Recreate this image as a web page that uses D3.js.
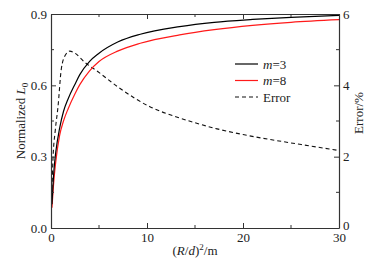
<!DOCTYPE html>
<html>
<head>
<meta charset="utf-8">
<script src="https://cdn.jsdelivr.net/npm/d3@7"></script>
<style>
  body { margin: 0; background: #fff; }
</style>
</head>
<body>
<div id="chart"></div>
<script>
// data
var xM3 = [0.1, 0.3, 0.5, 0.9, 1.3, 1.8, 2.5, 3, 4, 5, 7, 9.3, 13.4, 17, 21, 25, 30];
var yM3 = [0.10, 0.24, 0.32, 0.42, 0.49, 0.545, 0.605, 0.645, 0.7, 0.735, 0.783, 0.815, 0.847, 0.865, 0.877, 0.886, 0.894];

var xM8 = [0.1, 0.3, 0.5, 0.9, 1.3, 1.8, 2.5, 3, 4, 5, 7, 9.3, 13.4, 17, 21, 25, 30];
var yM8 = [0.085, 0.2, 0.28, 0.39, 0.45, 0.503, 0.565, 0.603, 0.66, 0.7, 0.745, 0.777, 0.812, 0.834, 0.852, 0.865, 0.876];

var xErr = [0.1, 0.2, 0.45, 0.73, 1.07, 1.5, 1.95, 2.5, 3.5, 4.9, 7, 10.3, 13, 15, 17.3, 20, 24.2, 27, 29.8];
var yErr = [1.1, 1.9, 2.75, 3.4, 4.45, 4.85, 4.96, 4.9, 4.65, 4.38, 3.95, 3.4, 3.12, 2.95, 2.78, 2.62, 2.42, 2.3, 2.18];

var xTicks = [0, 10, 20, 30];
var yLeftTicks = [0, 0.3, 0.6, 0.9];
var yRightTicks = [0, 2, 4, 6];

var width = 390, height = 259;
var margin = { top: 14, right: 51, bottom: 31, left: 51 };
var w = width - margin.left - margin.right;
var h = height - margin.top - margin.bottom;
var fontSize = 13;
var fontFamily = "'Liberation Serif', 'Times New Roman', Times, serif";
var axisColor = "#333";

var svg = d3.select("#chart").append("svg")
  .attr("width", width)
  .attr("height", height)
  .attr("font-family", fontFamily);

var g = svg.append("g")
  .attr("transform", "translate(" + margin.left + "," + margin.top + ")");

var x = d3.scaleLinear().domain([0, 30]).range([0, w]);
var yL = d3.scaleLinear().domain([0, 0.9]).range([h, 0]);
var yR = d3.scaleLinear().domain([0, 6]).range([h, 0]);

g.append("clipPath").attr("id", "clip")
  .append("rect").attr("width", w).attr("height", h);

function zip(xs, ys) {
  return xs.map(function (d, i) { return [d, ys[i]]; });
}

var lineL = d3.line()
  .x(function (d) { return x(d[0]); })
  .y(function (d) { return yL(d[1]); })
  .curve(d3.curveMonotoneX);

var lineR = d3.line()
  .x(function (d) { return x(d[0]); })
  .y(function (d) { return yR(d[1]); })
  .curve(d3.curveMonotoneX);

var plot = g.append("g").attr("clip-path", "url(#clip)");

plot.append("path").datum(zip(xErr, yErr))
  .attr("d", lineR).attr("fill", "none")
  .attr("stroke", "#111").attr("stroke-width", 1.1)
  .attr("stroke-dasharray", "4,3");

plot.append("path").datum(zip(xM8, yM8))
  .attr("d", lineL).attr("fill", "none")
  .attr("stroke", "#ff1a1a").attr("stroke-width", 1.2);

plot.append("path").datum(zip(xM3, yM3))
  .attr("d", lineL).attr("fill", "none")
  .attr("stroke", "#000").attr("stroke-width", 1.2);

// axes, ticks pointing inward
var minorX = [5, 15, 25];
var minorL = [0.15, 0.45, 0.75];
var minorR = [1, 3, 5];

var axBottom = g.append("g").attr("transform", "translate(0," + h + ")")
  .call(d3.axisBottom(x).tickValues(xTicks).tickSizeInner(-5).tickSizeOuter(0).tickPadding(5).tickFormat(d3.format("d")));
axBottom.append("g").selectAll("line").data(minorX).enter().append("line")
  .attr("x1", x).attr("x2", x).attr("y1", 0).attr("y2", -3);

var axTop = g.append("g")
  .call(d3.axisTop(x).tickValues(xTicks).tickSizeInner(-5).tickSizeOuter(0).tickFormat(""));
axTop.append("g").selectAll("line").data(minorX).enter().append("line")
  .attr("x1", x).attr("x2", x).attr("y1", 0).attr("y2", 3);

var axLeft = g.append("g")
  .call(d3.axisLeft(yL).tickValues(yLeftTicks).tickSizeInner(-5).tickSizeOuter(0).tickPadding(4).tickFormat(d3.format(".1f")));
axLeft.append("g").selectAll("line").data(minorL).enter().append("line")
  .attr("y1", yL).attr("y2", yL).attr("x1", 0).attr("x2", 3);

var axRight = g.append("g").attr("transform", "translate(" + w + ",0)")
  .call(d3.axisRight(yR).tickValues(yRightTicks).tickSizeInner(-5).tickSizeOuter(0).tickPadding(4).tickFormat(d3.format("d")));
axRight.append("g").selectAll("line").data(minorR).enter().append("line")
  .attr("y1", yR).attr("y2", yR).attr("x1", 0).attr("x2", -3);
// lift the right "0" a little so it clears the "30" below
axRight.selectAll(".tick text").filter(function (d) { return d === 0; }).attr("dy", "0.1em");

[axBottom, axTop, axLeft, axRight].forEach(function (a) {
  a.attr("font-family", fontFamily);
  a.selectAll("path.domain").attr("stroke", axisColor).attr("stroke-width", 1.2);
  a.selectAll("line").attr("stroke", axisColor).attr("stroke-width", 1);
  a.selectAll("text").attr("font-size", fontSize)
    .attr("font-family", fontFamily).attr("fill", "#222");
});

// axis titles
var xt = svg.append("text")
  .attr("x", margin.left + w / 2)
  .attr("y", 255)
  .attr("text-anchor", "middle")
  .attr("font-size", fontSize)
  .attr("fill", "#222");
xt.append("tspan").text("(");
xt.append("tspan").attr("font-style", "italic").text("R");
xt.append("tspan").text("/");
xt.append("tspan").attr("font-style", "italic").text("d");
xt.append("tspan").text(")");
xt.append("tspan").attr("font-size", 9).attr("dy", -5).text("2");
xt.append("tspan").attr("dy", 5).text("/m");

var yt = svg.append("text")
  .attr("transform", "translate(25," + (margin.top + h / 2) + ") rotate(-90)")
  .attr("text-anchor", "middle")
  .attr("font-size", fontSize)
  .attr("fill", "#222");
yt.append("tspan").text("Normalized ");
yt.append("tspan").attr("font-style", "italic").text("L");
yt.append("tspan").attr("font-size", 9).attr("dy", 3).text("0");

svg.append("text")
  .attr("transform", "translate(363," + (margin.top + h / 2 - 8) + ") rotate(-90)")
  .attr("text-anchor", "middle")
  .attr("font-size", fontSize)
  .attr("fill", "#222")
  .text("Error/%");

// legend
var legendItems = [
  { label: "m", suffix: "=3", color: "#000", dash: null },
  { label: "m", suffix: "=8", color: "#ff1a1a", dash: null },
  { label: "", suffix: "Error", color: "#111", dash: "4,3" }
];
var lg = svg.append("g").attr("transform", "translate(235,64)");
legendItems.forEach(function (d, i) {
  var row = lg.append("g").attr("transform", "translate(0," + i * 16.5 + ")");
  row.append("line").attr("x1", 0).attr("x2", 23).attr("y1", 0).attr("y2", 0)
    .attr("stroke", d.color).attr("stroke-width", 1.2)
    .attr("stroke-dasharray", d.dash);
  var t = row.append("text").attr("x", 28).attr("y", 4.5)
    .attr("font-size", fontSize).attr("fill", "#222");
  if (d.label) t.append("tspan").attr("font-style", "italic").text(d.label);
  t.append("tspan").text(d.suffix);
});
</script>
</body>
</html>
